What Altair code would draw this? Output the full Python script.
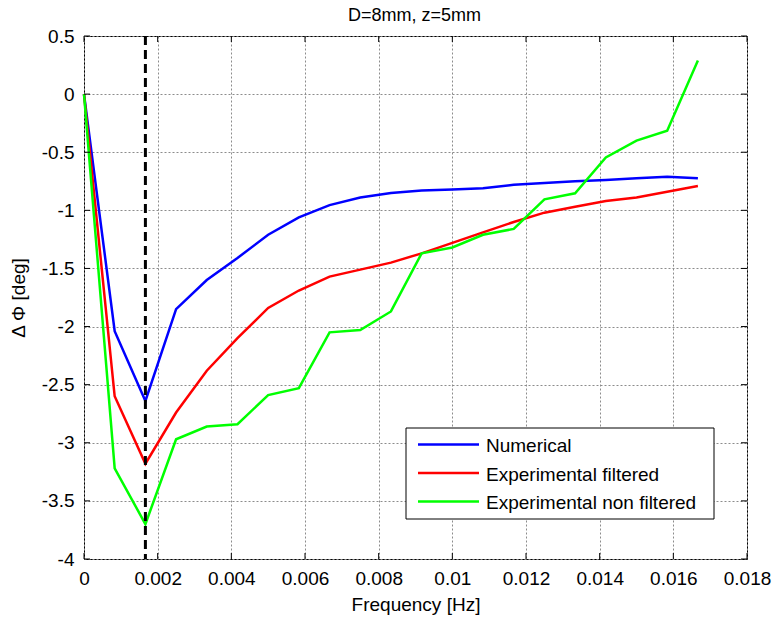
import altair as alt
import pandas as pd

# Sampled frequencies [Hz]
freq = [0.0, 0.000833, 0.001667, 0.0025, 0.003333, 0.004167, 0.005, 0.005833,
        0.006667, 0.0075, 0.008333, 0.009167, 0.01, 0.010833, 0.011667, 0.0125,
        0.013333, 0.014167, 0.015, 0.015833, 0.016667]

# Phase difference [deg] for each series
numerical = [0.0, -2.04, -2.64, -1.85, -1.60, -1.41, -1.21, -1.06, -0.955, -0.89,
             -0.85, -0.83, -0.82, -0.81, -0.78, -0.765, -0.75, -0.74, -0.725,
             -0.71, -0.725]
exp_filtered = [0.0, -2.60, -3.18, -2.74, -2.38, -2.10, -1.84, -1.69, -1.57,
                -1.51, -1.45, -1.37, -1.28, -1.19, -1.10, -1.02, -0.97, -0.92,
                -0.89, -0.84, -0.79]
exp_raw = [0.0, -3.22, -3.70, -2.97, -2.86, -2.84, -2.59, -2.53, -2.05, -2.03,
           -1.87, -1.37, -1.32, -1.21, -1.16, -0.905, -0.853, -0.545, -0.40,
           -0.315, 0.29]

series_names = ["Numerical", "Experimental filtered", "Experimental non filtered"]
series_colors = ["#0000ff", "#ff0000", "#00ff00"]

# Frequency of the minimum, marked with a dashed line
marker_freq = [0.001667]

x_ticks = [0, 0.002, 0.004, 0.006, 0.008, 0.01, 0.012, 0.014, 0.016, 0.018]
y_ticks = [-4, -3.5, -3, -2.5, -2, -1.5, -1, -0.5, 0, 0.5]

title_text = "D=8mm, z=5mm"

FONT = "Liberation Sans"
W, H = 663, 523

rows = []
for name, vals in zip(series_names, [numerical, exp_filtered, exp_raw]):
    for f, v in zip(freq, vals):
        rows.append({"freq": f, "dphi": v, "series": name})
df = pd.DataFrame(rows)

x_scale = alt.Scale(domain=[0, 0.018], nice=False, zero=False)
y_scale = alt.Scale(domain=[-4, 0.5], nice=False, zero=False)

axis_style = dict(labelExpr="toString(datum.value)", ticks=False, tickSize=0,
                  domain=False, grid=True, labelPadding=10,
                  labelFlush=False, labelOverlap=False,
                  labelFont=FONT, labelFontSize=19, labelColor="black",
                  titleFont=FONT, titleFontSize=19, titleFontWeight="normal",
                  titleColor="black", gridColor="#8c8c8c", gridDash=[2, 2],
                  gridWidth=1, gridOpacity=1)
x_axis = alt.Axis(values=x_ticks, title="Frequency [Hz]", titlePadding=7, **axis_style)
y_axis = alt.Axis(values=y_ticks, title="\u0394 \u03a6 [deg]", titlePadding=13, **axis_style)

lines = alt.Chart(df).mark_line(strokeWidth=2.5).encode(
    x=alt.X("freq:Q", scale=x_scale, axis=x_axis),
    y=alt.Y("dphi:Q", scale=y_scale, axis=y_axis),
    color=alt.Color("series:N", scale=alt.Scale(domain=series_names, range=series_colors),
                    legend=None),
    order=alt.Order("freq:Q"),
)

marker = alt.Chart(pd.DataFrame({"freq": marker_freq})).mark_rule(
    color="black", strokeWidth=3, strokeDash=[9, 5]
).encode(x=alt.X("freq:Q", scale=x_scale))

# Inward tick marks on all four sides of the box
ytk = pd.DataFrame({"dphi": y_ticks})
xtk = pd.DataFrame({"freq": x_ticks})
tick_style = dict(color="black", strokeWidth=1)
ticks_left = alt.Chart(ytk).mark_rule(**tick_style).encode(
    y=alt.Y("dphi:Q", scale=y_scale), x=alt.value(0), x2=alt.value(6))
ticks_right = alt.Chart(ytk).mark_rule(**tick_style).encode(
    y=alt.Y("dphi:Q", scale=y_scale), x=alt.value(W - 6), x2=alt.value(W))
ticks_bottom = alt.Chart(xtk).mark_rule(**tick_style).encode(
    x=alt.X("freq:Q", scale=x_scale), y=alt.value(H - 6), y2=alt.value(H))
ticks_top = alt.Chart(xtk).mark_rule(**tick_style).encode(
    x=alt.X("freq:Q", scale=x_scale), y=alt.value(0), y2=alt.value(6))

# Title above the box
title = alt.Chart(pd.DataFrame({"label": [title_text]})).mark_text(
    align="center", baseline="alphabetic", font=FONT, fontSize=18, color="black"
).encode(text="label:N", x=alt.value(W / 2 - 1), y=alt.value(-15))

# Legend box drawn inside the plot area
one = pd.DataFrame({"k": [0]})
legend_box = alt.Chart(one).mark_rect(fill="white", stroke="black", strokeWidth=1).encode(
    x=alt.value(322), x2=alt.value(630), y=alt.value(392), y2=alt.value(483))

legend_layers = [legend_box]
row_y = [408.5, 437, 465.5]
for name, color, yy in zip(series_names, series_colors, row_y):
    legend_layers.append(
        alt.Chart(one).mark_rule(color=color, strokeWidth=2.5).encode(
            x=alt.value(334), x2=alt.value(395), y=alt.value(yy)))
    legend_layers.append(
        alt.Chart(pd.DataFrame({"label": [name]})).mark_text(
            align="left", baseline="middle", font=FONT, fontSize=19, color="black"
        ).encode(text="label:N", x=alt.value(402), y=alt.value(yy + 1.5)))

chart = alt.layer(
    lines, marker, ticks_left, ticks_right, ticks_bottom, ticks_top, title,
    *legend_layers
).properties(
    width=W, height=H,
    autosize=alt.AutoSizeParams(type="none"),
    padding={"left": 84, "top": 36, "right": 28, "bottom": 60},
    background="white",
).configure_view(
    stroke="black", strokeWidth=1
)

chart.save("out.html", embed_options={"renderer": "svg", "actions": False})
